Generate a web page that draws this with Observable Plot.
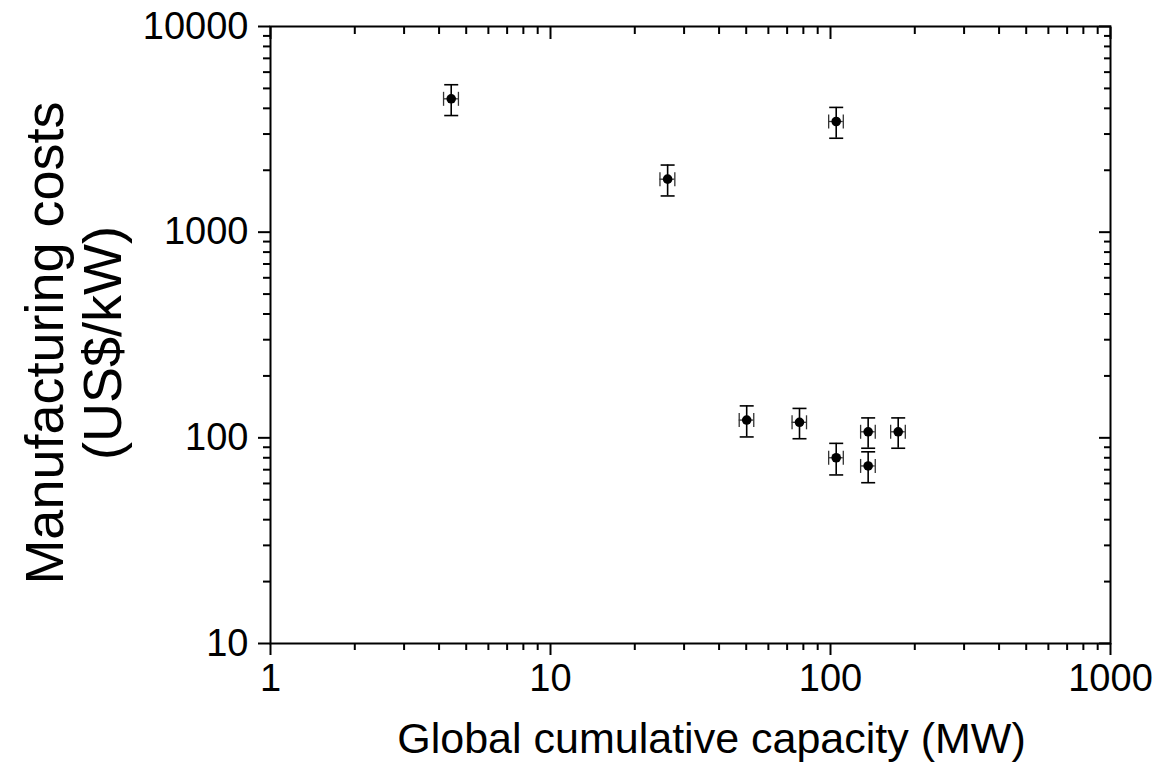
<!DOCTYPE html>
<html>
<head>
<meta charset="utf-8">
<script src="https://cdn.jsdelivr.net/npm/d3@7"></script>
<script src="https://cdn.jsdelivr.net/npm/@observablehq/plot@0.6"></script>
<style>
  html, body { margin: 0; padding: 0; background: #fff; }
  #chart svg { display: block; }
</style>
</head>
<body>
<div id="chart"></div>
<script>
// Data
const capacity = [4.42, 26.2, 104.8, 50.2, 77.5, 104.8, 136.3, 136.3, 174.5];   // MW
const cost     = [4450, 1810, 3452, 122, 119, 80, 107, 73, 107];                 // US$/kW
const capErr   = [0.27, 1.6, 6.3, 3.0, 4.6, 6.3, 8.2, 8.2, 10.5];               // ± MW
const costErr  = [760, 310, 590, 21, 20, 14, 18, 12.5, 18];                      // ± US$/kW

const xMajor = [1, 10, 100, 1000];
const yMajor = [10, 100, 1000, 10000];
const minorMult = [2, 3, 4, 5, 6, 7, 8, 9];

const xTitle = "Global cumulative capacity (MW)";
const yTitle = "Manufacturing costs\n(US$/kW)";

const data = capacity.map((x, i) => ({
  x, y: cost[i],
  x1: x - capErr[i], x2: x + capErr[i],
  y1: cost[i] - costErr[i], y2: cost[i] + costErr[i]
}));

const xMinor = [1, 10, 100].flatMap(d => minorMult.map(m => d * m));
const yMinor = [10, 100, 1000].flatMap(d => minorMult.map(m => d * m));

const hCap = { draw(ctx, size) { const r = Math.sqrt(size / Math.PI); ctx.moveTo(-r, 0); ctx.lineTo(r, 0); } };
const vCap = { draw(ctx, size) { const r = Math.sqrt(size / Math.PI); ctx.moveTo(0, -r); ctx.lineTo(0, r); } };

const blank = () => "";

const chart = Plot.plot({
  width: 1157,
  height: 779,
  marginLeft: 270,
  marginRight: 47,
  marginTop: 26,
  marginBottom: 136,
  style: { fontFamily: "'Liberation Sans', Arial, sans-serif", fontSize: "38px", color: "black", background: "white" },
  x: { type: "log", domain: [1, 1000], label: null },
  y: { type: "log", domain: [10, 10000], label: null },
  marks: [
    // bottom axis (outward ticks)
    Plot.axisX({ anchor: "bottom", ticks: xMajor, tickSize: 12, tickPadding: 9, tickFormat: d => String(d), strokeWidth: 2, label: null, fill: "black", fontSize: 38 }),
    Plot.axisX({ anchor: "bottom", ticks: xMinor, tickSize: 7, tickFormat: blank, strokeWidth: 2, label: null }),
    // top axis (inward ticks)
    Plot.axisX({ anchor: "top", ticks: xMajor, tickSize: -12, tickFormat: blank, strokeWidth: 2, label: null }),
    Plot.axisX({ anchor: "top", ticks: xMinor, tickSize: -7, tickFormat: blank, strokeWidth: 2, label: null }),
    // left axis (outward ticks)
    Plot.axisY({ anchor: "left", ticks: yMajor, tickSize: 12, tickPadding: 10, tickFormat: d => String(d), strokeWidth: 2, label: null, fill: "black", fontSize: 38 }),
    Plot.axisY({ anchor: "left", ticks: yMinor, tickSize: 7, tickFormat: blank, strokeWidth: 2, label: null }),
    // right axis (inward ticks)
    Plot.axisY({ anchor: "right", ticks: yMajor, tickSize: -12, tickFormat: blank, strokeWidth: 2, label: null }),
    Plot.axisY({ anchor: "right", ticks: yMinor, tickSize: -7, tickFormat: blank, strokeWidth: 2, label: null }),
    Plot.frame({ stroke: "black", strokeWidth: 2 }),
    // x error bars
    Plot.ruleY(data, { y: "y", x1: "x1", x2: "x2", stroke: "#333", strokeWidth: 1.3 }),
    Plot.dot(data, { x: "x1", y: "y", symbol: vCap, r: 7, stroke: "#333", strokeWidth: 1.3, fill: "none" }),
    Plot.dot(data, { x: "x2", y: "y", symbol: vCap, r: 7, stroke: "#333", strokeWidth: 1.3, fill: "none" }),
    // y error bars
    Plot.ruleX(data, { x: "x", y1: "y1", y2: "y2", stroke: "black", strokeWidth: 1.6 }),
    Plot.dot(data, { x: "x", y: "y1", symbol: hCap, r: 7, stroke: "black", strokeWidth: 1.6, fill: "none" }),
    Plot.dot(data, { x: "x", y: "y2", symbol: hCap, r: 7, stroke: "black", strokeWidth: 1.6, fill: "none" }),
    // points
    Plot.dot(data, { x: "x", y: "y", r: 4.8, fill: "black", stroke: "none" }),
    // axis titles
    Plot.text([xTitle], { text: d => d, frameAnchor: "bottom", dy: 96, dx: 21, fontSize: 43, lineAnchor: "middle", fill: "black" }),
    Plot.text([yTitle], { text: d => d, frameAnchor: "left", dx: -197, dy: 8, rotate: -90, fontSize: 54, lineHeight: 1.08, lineAnchor: "middle", textAnchor: "middle", fill: "black" })
  ]
});

document.getElementById("chart").appendChild(chart);
</script>
</body>
</html>
